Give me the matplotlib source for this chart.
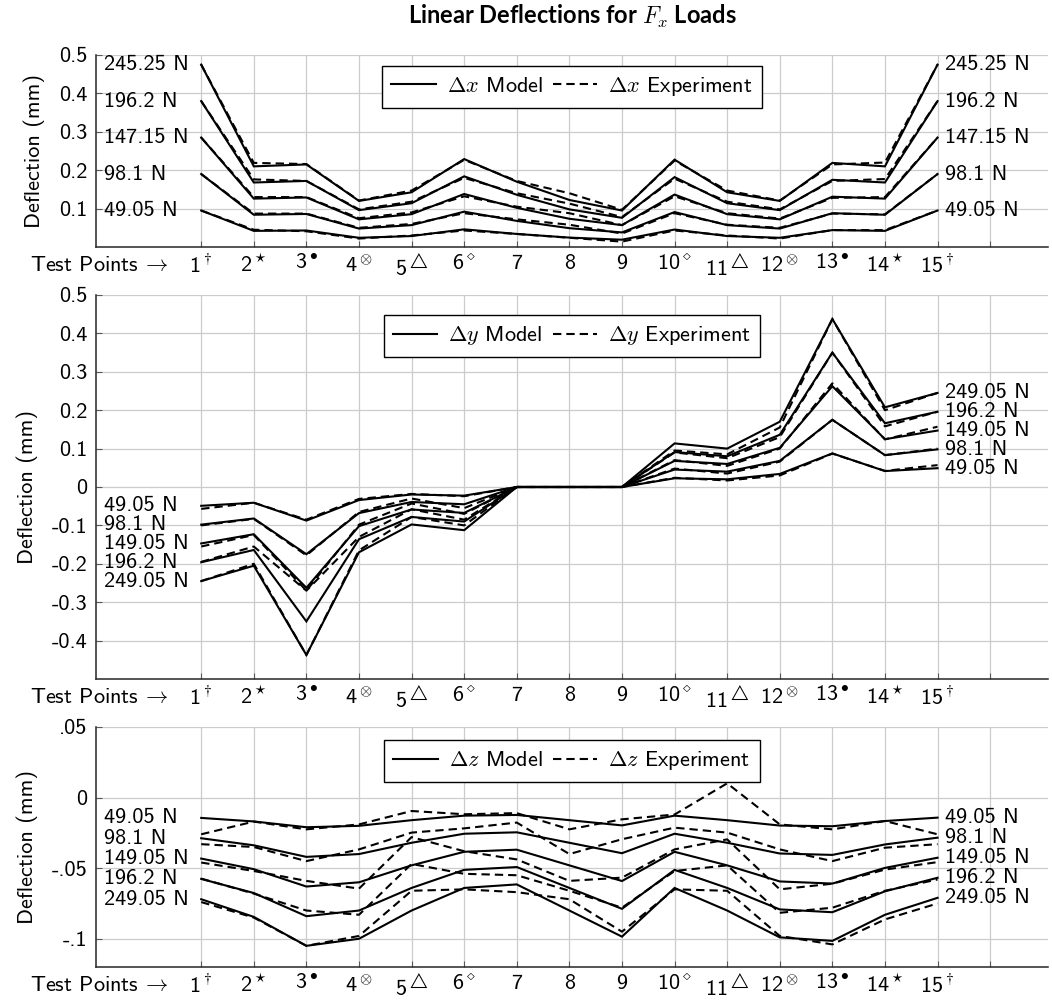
import matplotlib
matplotlib.use("Agg")
import matplotlib.pyplot as plt

plt.rcParams['font.family'] = ['cmss10', 'DejaVu Sans']
plt.rcParams['mathtext.fontset'] = 'cm'
plt.rcParams['axes.unicode_minus'] = False
plt.rcParams['axes.formatter.use_mathtext'] = False

points = list(range(1, 16))
tick_labels = [r'1$^\dagger$', r'2$^\star$', r'3$^\bullet$', r'4$^\otimes$', r'5$^\triangle$',
               r'6$^\diamond$', '7', '8', '9', r'10$^\diamond$', r'11$^\triangle$',
               r'12$^\otimes$', r'13$^\bullet$', r'14$^\star$', r'15$^\dagger$', '']
loads_x = ['49.05 N', '98.1 N', '147.15 N', '196.2 N', '245.25 N']
loads_yz = ['49.05 N', '98.1 N', '149.05 N', '196.2 N', '249.05 N']

# x deflection, one row per load
dx_model = [
    [0.095, 0.042, 0.043, 0.024, 0.0285, 0.046, 0.034, 0.0245, 0.019, 0.0455, 0.0285, 0.024, 0.044, 0.042, 0.095],
    [0.190, 0.084, 0.086, 0.048, 0.057, 0.092, 0.068, 0.049, 0.038, 0.091, 0.057, 0.048, 0.088, 0.084, 0.190],
    [0.285, 0.126, 0.129, 0.072, 0.0855, 0.138, 0.102, 0.0735, 0.057, 0.1365, 0.0855, 0.072, 0.131, 0.126, 0.285],
    [0.380, 0.168, 0.172, 0.096, 0.114, 0.184, 0.136, 0.098, 0.076, 0.182, 0.114, 0.096, 0.175, 0.168, 0.380],
    [0.475, 0.210, 0.215, 0.120, 0.1425, 0.229, 0.170, 0.1225, 0.095, 0.2275, 0.1425, 0.120, 0.219, 0.210, 0.475],
]
dx_exp = [
    [0.095, 0.045, 0.041, 0.022, 0.030, 0.043, 0.034, 0.024, 0.014, 0.043, 0.030, 0.022, 0.044, 0.044, 0.095],
    [0.190, 0.087, 0.087, 0.050, 0.060, 0.088, 0.072, 0.058, 0.035, 0.088, 0.058, 0.050, 0.087, 0.085, 0.190],
    [0.285, 0.130, 0.130, 0.075, 0.090, 0.132, 0.105, 0.088, 0.057, 0.132, 0.088, 0.074, 0.128, 0.130, 0.285],
    [0.380, 0.176, 0.172, 0.098, 0.118, 0.180, 0.140, 0.113, 0.078, 0.178, 0.118, 0.098, 0.172, 0.177, 0.380],
    [0.475, 0.219, 0.216, 0.121, 0.147, 0.227, 0.172, 0.140, 0.097, 0.225, 0.147, 0.121, 0.215, 0.220, 0.475],
]

# y deflection
dy_model = [
    [-0.049, -0.041, -0.0875, -0.034, -0.0195, -0.0225, 0, 0, 0, 0.0227, 0.020, 0.034, 0.0875, 0.0415, 0.049],
    [-0.098, -0.082, -0.175, -0.068, -0.039, -0.045, 0, 0, 0, 0.0454, 0.040, 0.068, 0.175, 0.083, 0.098],
    [-0.147, -0.123, -0.2625, -0.102, -0.0585, -0.0675, 0, 0, 0, 0.068, 0.060, 0.102, 0.2625, 0.1245, 0.147],
    [-0.196, -0.164, -0.350, -0.136, -0.078, -0.090, 0, 0, 0, 0.091, 0.080, 0.136, 0.350, 0.166, 0.196],
    [-0.245, -0.205, -0.4375, -0.170, -0.0975, -0.1125, 0, 0, 0, 0.1135, 0.100, 0.170, 0.4375, 0.2075, 0.245],
]
dy_exp = [
    [-0.057, -0.041, -0.085, -0.031, -0.018, -0.024, 0, 0, 0, 0.024, 0.017, 0.030, 0.087, 0.042, 0.057],
    [-0.100, -0.083, -0.178, -0.065, -0.030, -0.055, 0, 0, 0, 0.048, 0.035, 0.066, 0.175, 0.083, 0.100],
    [-0.155, -0.125, -0.270, -0.098, -0.043, -0.070, 0, 0, 0, 0.070, 0.055, 0.100, 0.270, 0.124, 0.157],
    [-0.195, -0.155, -0.270, -0.130, -0.058, -0.085, 0, 0, 0, 0.090, 0.075, 0.130, 0.350, 0.158, 0.196],
    [-0.245, -0.200, -0.4375, -0.165, -0.078, -0.100, 0, 0, 0, 0.095, 0.085, 0.155, 0.4375, 0.200, 0.245],
]

# z deflection
dz_model = [
    [-0.0144, -0.0169, -0.021, -0.020, -0.016, -0.0128, -0.0123, -0.016, -0.0197, -0.0128, -0.016, -0.0198, -0.0203, -0.0166, -0.0142],
    [-0.0288, -0.0338, -0.042, -0.040, -0.032, -0.0256, -0.0246, -0.032, -0.0394, -0.0256, -0.032, -0.0396, -0.0406, -0.0332, -0.0284],
    [-0.0432, -0.0507, -0.063, -0.060, -0.048, -0.0384, -0.0369, -0.048, -0.0591, -0.0384, -0.048, -0.0594, -0.0609, -0.0498, -0.0426],
    [-0.0576, -0.0676, -0.084, -0.080, -0.064, -0.0512, -0.0492, -0.064, -0.0788, -0.0512, -0.064, -0.0792, -0.0812, -0.0664, -0.0568],
    [-0.072, -0.0845, -0.105, -0.100, -0.080, -0.064, -0.0615, -0.080, -0.0985, -0.064, -0.080, -0.099, -0.1015, -0.083, -0.071],
]
dz_exp = [
    [-0.026, -0.017, -0.0225, -0.019, -0.0095, -0.0118, -0.011, -0.0225, -0.0154, -0.012, 0.0101, -0.019, -0.0225, -0.0166, -0.026],
    [-0.033, -0.035, -0.045, -0.0367, -0.0248, -0.0218, -0.0177, -0.040, -0.0295, -0.0213, -0.0248, -0.0367, -0.045, -0.0355, -0.033],
    [-0.046, -0.052, -0.059, -0.0645, -0.028, -0.038, -0.0438, -0.059, -0.0567, -0.0367, -0.0296, -0.065, -0.061, -0.051, -0.0457],
    [-0.0574, -0.068, -0.080, -0.083, -0.047, -0.054, -0.055, -0.066, -0.078, -0.052, -0.048, -0.0816, -0.078, -0.066, -0.058],
    [-0.074, -0.085, -0.105, -0.098, -0.066, -0.065, -0.067, -0.072, -0.095, -0.065, -0.066, -0.098, -0.104, -0.0863, -0.075],
]

W, H = 1052, 1000
FS = 16
fig = plt.figure(figsize=(W / 100, H / 100), dpi=100)

def make_axes(top, bottom):
    return fig.add_axes([96 / W, 1 - bottom / H, (1048 - 96) / W, (bottom - top) / H])

panels = [
    (make_axes(55, 247), dx_model, dx_exp, loads_x, 'x', (0, 0.5),
     [0.1, 0.2, 0.3, 0.4, 0.5], ['0.1', '0.2', '0.3', '0.4', '0.5'], 0.943),
    (make_axes(295, 679), dy_model, dy_exp, loads_yz, 'y', (-0.5, 0.5),
     [-0.4, -0.3, -0.2, -0.1, 0, 0.1, 0.2, 0.3, 0.4, 0.5],
     ['-0.4', '-0.3', '-0.2', '-0.1', '0', '0.1', '0.2', '0.3', '0.4', '0.5'], 0.948),
    (make_axes(727, 967), dz_model, dz_exp, loads_yz, 'z', (-0.12, 0.05),
     [-0.1, -0.05, 0, 0.05], ['-.1', '-.05', '0', '.05'], 0.946),
]

for ax, model, exp, loads, comp, ylim, yt, ytl, leg_y in panels:
    for i in range(5):
        ax.plot(points, model[i], color='black', lw=1.5, solid_joinstyle='miter',
                label=rf'$\Delta {comp}$ Model' if i == 0 else None, zorder=3)
        ax.plot(points, exp[i], color='black', lw=1.5, dashes=(4, 2.4),
                label=rf'$\Delta {comp}$ Experiment' if i == 0 else None, zorder=3)
        ax.text(-0.84, model[i][0], loads[i], ha='left', va='center', fontsize=FS)
        ax.text(15.15, model[i][-1], loads[i], ha='left', va='center', fontsize=FS)

    ax.set_xlim(-1, 17.1)
    ax.set_ylim(*ylim)
    ax.set_xticks(list(range(1, 17)))
    ax.set_xticklabels(tick_labels, fontsize=FS)
    ax.set_yticks(yt)
    ax.set_yticklabels(ytl, fontsize=FS)
    ax.tick_params(axis='both', direction='in', length=4, color='0.35', width=0.8)
    ax.tick_params(axis='x', pad=5)
    ax.tick_params(axis='y', pad=6)
    ax.grid(True, color='#cccccc', lw=0.9, zorder=0)
    ax.set_axisbelow(True)
    for s in ('top', 'right'):
        ax.spines[s].set_visible(False)
    for s in ('left', 'bottom'):
        ax.spines[s].set_linewidth(1.1)
        ax.spines[s].set_color('0.15')
    ax.set_ylabel('Deflection (mm)', fontsize=FS, labelpad=10)
    ax.annotate(r'Test Points $\!\rightarrow$', xy=(0.37, 0), xycoords=('data', 'axes fraction'),
                xytext=(0, -6.5), textcoords='offset points', ha='right', va='top', fontsize=FS)
    leg = ax.legend(loc='upper center', bbox_to_anchor=(0.5, leg_y), ncol=2, fontsize=FS,
                    frameon=True, fancybox=False, edgecolor='black', framealpha=1,
                    borderaxespad=0, handlelength=2.0, columnspacing=0.45, handletextpad=0.5,
                    borderpad=0.42)
    leg.get_frame().set_linewidth(1.0)

fig.text((96 + 1048) / 2 / W, 0.984, r'Linear Deflections for $F_x$ Loads',
         ha='center', va='center', fontsize=17, fontweight='bold', family='Lato')

fig.savefig('out.png', dpi=100)
